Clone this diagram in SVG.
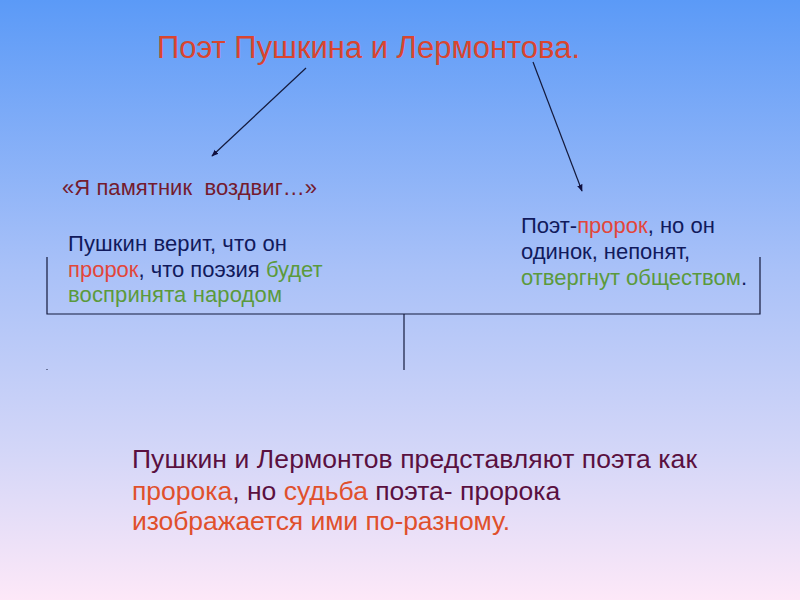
<svg xmlns="http://www.w3.org/2000/svg" width="800" height="600" viewBox="0 0 800 600">
<defs>
<linearGradient id="bg" x1="0" y1="0" x2="0" y2="1">
<stop offset="0" stop-color="#5b9af7"/>
<stop offset="0.45" stop-color="#a9c1f8"/>
<stop offset="0.75" stop-color="#d3d6f8"/>
<stop offset="1" stop-color="#fde8f8"/>
</linearGradient>
<marker id="ah" viewBox="0 0 10 10" refX="9" refY="5" markerWidth="7" markerHeight="7" orient="auto" markerUnits="userSpaceOnUse">
<path d="M0,1 L10,5 L0,9 Z" fill="#101040"/>
</marker>
<style>
text{font-family:"Liberation Sans",Arial,sans-serif;}
.t{font-size:31px;fill:#d9452f;}
.q{font-size:22px;fill:#741b2e;}
.b{font-size:22px;fill:#111a5c;}
.r{fill:#e2463a;}
.g{fill:#5b9a3c;}
.m{font-size:26.5px;fill:#5a1040;}
.o{fill:#e0502c;}
.ln{stroke:#141a3c;stroke-width:1.2;fill:none;}
</style>
</defs>
<rect width="800" height="600" fill="url(#bg)"/>
<g id="title"><text class="t" x="157" y="58" textLength="423">Поэт Пушкина и Лермонтова.</text></g>
<g id="pushkin-quote"><text class="q" x="62" y="195" xml:space="preserve" textLength="255">«Я памятник  воздвиг…»</text></g>
<g id="pushkin-text">
<text class="b" x="68" y="251" textLength="219">Пушкин верит, что он</text>
<text class="b" x="68" y="277"><tspan class="r">пророк</tspan>, что поэзия <tspan class="g">будет</tspan></text>
<text class="b" x="68" y="302" textLength="214"><tspan class="g">воспринята народом</tspan></text>
</g>
<g id="lermontov-text">
<text class="b" x="521" y="233">Поэт-<tspan class="r">пророк</tspan>, но он</text>
<text class="b" x="521" y="259" textLength="169">одинок, непонят,</text>
<text class="b" x="521" y="285"><tspan class="g">отвергнут обществом</tspan>.</text>
</g>
<g id="conclusion">
<text class="m" x="132" y="468" textLength="565">Пушкин и Лермонтов представляют поэта как</text>
<text class="m" x="132" y="500"><tspan class="o">пророка</tspan>, но <tspan class="o">судьба</tspan> поэта- пророка</text>
<text class="m" x="132" y="530" textLength="378"><tspan class="o">изображается ими по-разному.</tspan></text>
</g>
<g id="connectors">
<line class="ln" x1="306" y1="68" x2="212" y2="156" marker-end="url(#ah)"/>
<line class="ln" x1="533" y1="62" x2="582" y2="191" marker-end="url(#ah)"/>
<polyline class="ln" points="47,257 47,314 760,314 760,257"/>
<line class="ln" x1="404" y1="314" x2="404" y2="370"/>
<rect x="46.5" y="369" width="1" height="1" fill="#141a3c"/>
</g>
</svg>
